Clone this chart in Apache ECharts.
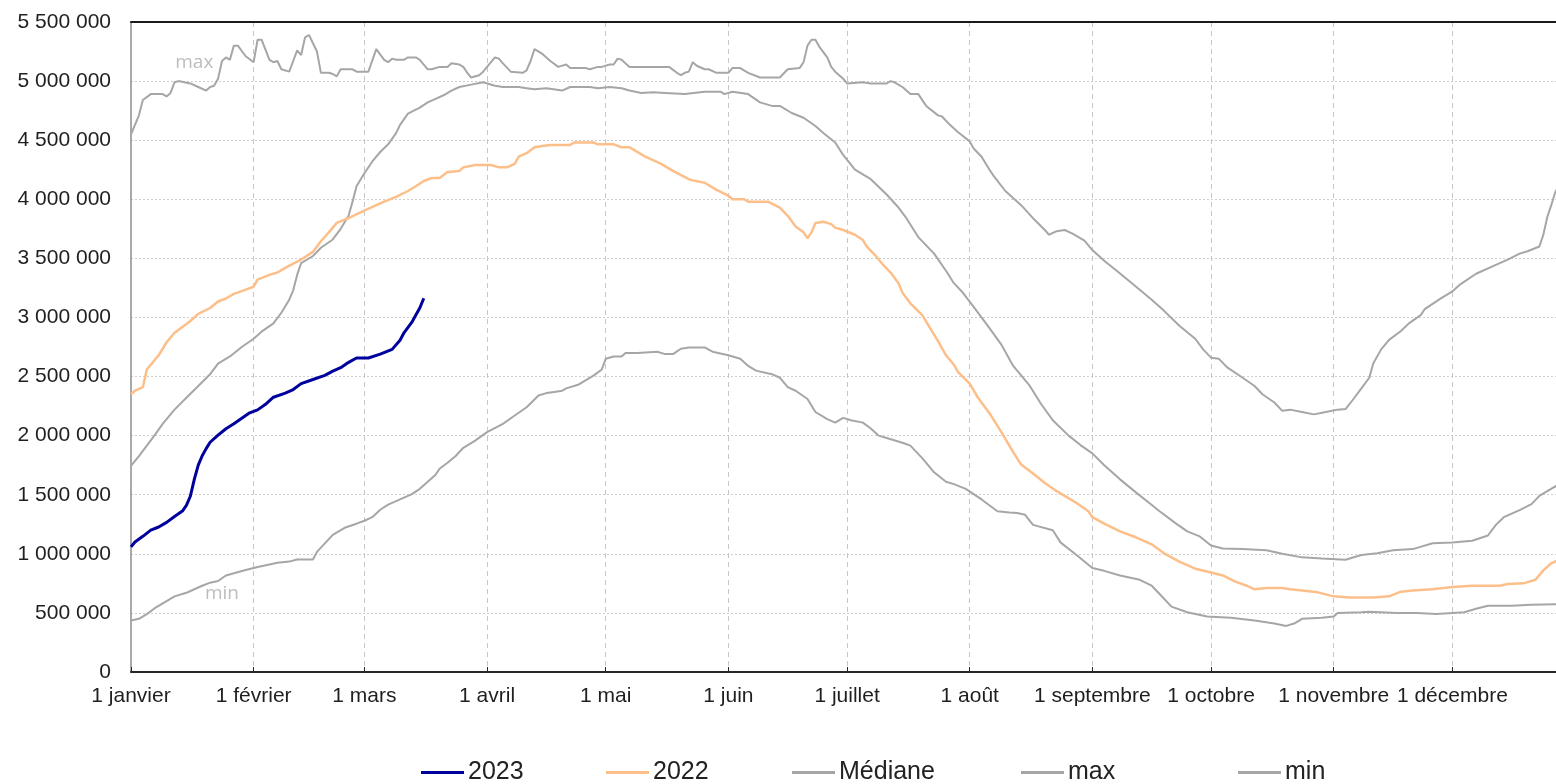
<!DOCTYPE html>
<html>
<head>
<meta charset="utf-8">
<script src="https://cdn.jsdelivr.net/npm/echarts@6/dist/echarts.min.js"></script>
<style>
html,body{margin:0;padding:0;background:#fff;overflow:hidden;}
#chart{width:1556px;height:784px;}
</style>
</head>
<body>
<div id="chart"></div>
<script>
// ---- x axis (day of year 0..365) ----
const monthStarts = [0,31,59,90,120,151,181,212,243,273,304,334];
const monthLabels = ['1 janvier','1 février','1 mars','1 avril','1 mai','1 juin','1 juillet','1 août','1 septembre','1 octobre','1 novembre','1 décembre'];
const yTicks = [0,500000,1000000,1500000,2000000,2500000,3000000,3500000,4000000,4500000,5000000,5500000];

// ---- series: day index + value ----
const maxDays = [0,2,3,5,8,9,10,11,12,15,17,19,20,21,22,23,24,25,26,27,29,31,32,33,35,36,37,38,40,41,42,43,44,45,47,48,50,51,52,53,56,57,60,62,64,65,66,67,69,70,72,73,75,76,78,80,81,83,84,85,86,88,89,91,92,93,94,96,99,100,101,102,104,106,108,110,111,115,116,118,119,121,122,123,124,126,136,138,139,140,141,142,143,145,146,148,151,152,154,156,159,164,166,169,170,171,172,173,174,176,177,178,180,181,185,187,191,192,193,195,197,199,201,204,205,207,209,212,213,215,217,218,221,225,228,231,232,234,236,238,241,243,246,249,253,258,261,265,269,271,273,275,277,281,284,286,289,291,293,296,299,302,305,307,309,311,313,314,316,318,321,323,326,327,331,334,336,340,344,348,351,353,356,357,358,359,360,361];
const maxVals = [4550000,4710000,4840000,4890000,4890000,4870000,4900000,4990000,5000000,4980000,4950000,4920000,4950000,4960000,5020000,5170000,5200000,5180000,5300000,5300000,5210000,5160000,5350000,5350000,5180000,5160000,5170000,5100000,5080000,5170000,5260000,5220000,5370000,5390000,5250000,5070000,5070000,5060000,5040000,5100000,5100000,5080000,5080000,5270000,5180000,5160000,5190000,5180000,5180000,5200000,5200000,5180000,5100000,5100000,5120000,5120000,5150000,5140000,5120000,5070000,5030000,5050000,5080000,5160000,5200000,5190000,5150000,5080000,5070000,5090000,5170000,5270000,5230000,5170000,5120000,5140000,5110000,5110000,5100000,5120000,5120000,5140000,5140000,5190000,5180000,5120000,5120000,5070000,5050000,5070000,5080000,5160000,5130000,5100000,5100000,5070000,5070000,5110000,5110000,5070000,5030000,5030000,5100000,5110000,5160000,5300000,5350000,5350000,5290000,5200000,5120000,5080000,5020000,4980000,4990000,4980000,4980000,5000000,4990000,4950000,4890000,4890000,4790000,4710000,4700000,4630000,4570000,4490000,4430000,4360000,4250000,4200000,4070000,3950000,3840000,3740000,3700000,3730000,3740000,3710000,3650000,3570000,3480000,3400000,3290000,3150000,3060000,2930000,2820000,2730000,2660000,2650000,2580000,2490000,2420000,2350000,2280000,2210000,2220000,2200000,2180000,2200000,2220000,2225000,2310000,2400000,2490000,2610000,2730000,2810000,2885000,2950000,3020000,3070000,3160000,3220000,3280000,3370000,3430000,3490000,3540000,3560000,3600000,3700000,3850000,3950000,4060000,4120000];

const medDays = [0,2,4,6,8,11,14,17,20,22,25,28,31,33,36,38,40,41,42,43,46,48,51,53,55,56,57,59,61,63,65,67,68,70,73,75,77,79,81,83,86,89,92,94,98,100,102,105,109,111,116,118,121,124,126,129,132,135,140,145,149,150,152,156,159,162,164,167,170,173,175,178,180,183,187,191,194,196,199,203,206,208,210,213,217,220,223,227,230,233,237,240,243,246,250,254,257,260,264,267,270,273,276,281,287,291,296,301,307,311,315,319,324,329,334,339,343,345,347,351,354,356,358,361];
const medVals = [1744000,1826000,1915000,2004000,2100000,2220000,2320000,2420000,2520000,2610000,2670000,2750000,2820000,2880000,2950000,3040000,3150000,3230000,3360000,3460000,3520000,3590000,3660000,3750000,3860000,3980000,4110000,4220000,4320000,4400000,4465000,4560000,4630000,4725000,4775000,4820000,4850000,4880000,4920000,4950000,4970000,4990000,4960000,4950000,4950000,4940000,4930000,4940000,4920000,4950000,4950000,4940000,4950000,4940000,4920000,4900000,4905000,4900000,4890000,4910000,4910000,4890000,4910000,4890000,4820000,4790000,4790000,4730000,4690000,4620000,4560000,4480000,4376000,4250000,4170000,4040000,3930000,3840000,3680000,3540000,3395000,3290000,3220000,3090000,2910000,2770000,2590000,2430000,2270000,2130000,2000000,1920000,1850000,1750000,1630000,1520000,1440000,1360000,1260000,1190000,1150000,1070000,1045000,1040000,1030000,1000000,970000,960000,950000,990000,1005000,1030000,1040000,1090000,1095000,1110000,1155000,1245000,1310000,1370000,1420000,1490000,1530000,1590000];

const y2022Days = [0,1,3,4,6,7,9,11,13,15,17,20,22,24,26,29,31,32,35,37,39,41,43,46,48,50,52,55,58,62,64,67,70,72,74,76,78,80,83,84,87,91,93,95,97,98,100,102,104,106,111,112,117,118,122,124,126,127,130,134,137,141,142,145,148,151,152,155,156,161,164,166,168,170,171,172,173,175,177,178,180,183,185,186,188,190,192,194,195,197,200,202,204,206,208,209,212,214,217,220,223,225,228,231,234,236,239,242,243,246,250,254,258,261,265,269,272,276,279,282,284,287,291,293,296,300,304,308,314,318,321,324,329,334,339,346,348,352,355,357,359,361];
const y2022Vals = [2350000,2380000,2410000,2560000,2640000,2680000,2790000,2870000,2920000,2970000,3030000,3080000,3135000,3160000,3200000,3235000,3260000,3320000,3360000,3380000,3420000,3456000,3490000,3555000,3645000,3720000,3800000,3840000,3890000,3950000,3980000,4020000,4070000,4110000,4155000,4180000,4180000,4230000,4240000,4270000,4290000,4290000,4270000,4270000,4300000,4360000,4390000,4440000,4450000,4460000,4460000,4480000,4480000,4465000,4465000,4440000,4440000,4420000,4360000,4300000,4240000,4170000,4160000,4140000,4080000,4030000,4000000,4000000,3980000,3980000,3930000,3860000,3770000,3720000,3670000,3720000,3800000,3810000,3790000,3760000,3740000,3700000,3655000,3600000,3530000,3450000,3380000,3290000,3210000,3120000,3020000,2910000,2800000,2680000,2600000,2540000,2440000,2325000,2190000,2030000,1860000,1755000,1680000,1600000,1530000,1490000,1430000,1360000,1310000,1255000,1190000,1140000,1080000,1006000,934000,874000,850000,817000,767000,730000,700000,710000,710000,700000,690000,674000,640000,630000,630000,640000,680000,690000,700000,720000,730000,730000,745000,750000,780000,860000,920000,950000];

const minDays = [0,2,4,6,9,11,14,16,18,20,22,24,26,29,32,35,37,40,42,46,47,49,51,54,57,59,61,63,65,68,71,73,75,77,78,80,82,84,87,90,94,97,100,103,105,107,109,110,113,115,117,119,120,122,124,125,128,133,135,137,139,141,145,147,151,154,156,158,162,164,166,168,171,173,176,178,180,182,185,187,189,191,195,197,200,203,206,208,211,215,219,222,224,226,228,233,235,239,243,246,250,255,258,260,263,267,272,278,284,289,292,294,296,301,304,305,311,313,320,325,330,337,340,343,349,354,361];
const minVals = [435000,450000,490000,540000,600000,640000,670000,700000,730000,756000,770000,817000,835000,863000,888000,910000,924000,934000,952000,952000,1016000,1088000,1160000,1220000,1255000,1280000,1310000,1373000,1416000,1460000,1505000,1550000,1610000,1670000,1720000,1770000,1826000,1897000,1958000,2030000,2100000,2170000,2240000,2340000,2360000,2370000,2380000,2400000,2430000,2470000,2510000,2560000,2650000,2670000,2670000,2700000,2700000,2710000,2690000,2690000,2735000,2746000,2746000,2710000,2680000,2650000,2590000,2550000,2520000,2490000,2410000,2380000,2310000,2200000,2140000,2110000,2150000,2130000,2110000,2060000,2000000,1980000,1940000,1915000,1810000,1690000,1610000,1590000,1550000,1460000,1360000,1350000,1345000,1330000,1245000,1200000,1095000,990000,880000,856000,817000,780000,730000,660000,553000,506000,470000,460000,435000,410000,390000,410000,450000,460000,470000,500000,506000,510000,500000,500000,490000,506000,535000,560000,560000,570000,574000];

const y2023Days = [0,1,3,5,7,9,11,13,14,15,16,17,18,19,20,22,24,26,28,30,32,34,36,39,41,43,46,49,51,53,55,57,60,63,66,68,69,71,72,73,74];
const y2023Vals = [1059000,1100000,1148000,1200000,1227000,1266000,1316000,1362000,1410000,1487000,1630000,1750000,1830000,1890000,1944000,2004000,2058000,2100000,2147000,2193000,2218000,2265000,2325000,2360000,2390000,2440000,2475000,2510000,2546000,2575000,2620000,2657000,2657000,2690000,2730000,2807000,2870000,2960000,3020000,3080000,3163000];

// annotation anchors (day index, value)
const maxNote = [16, 5160000];
const minNote = [23, 660000];

const zip = (d, v) => d.map((x, i) => [x, v[i]]);
const categories = Array.from({length: 366}, (_, i) => String(i));
const isMonthStart = (i) => monthStarts.indexOf(i) >= 0;
const fmt = v => String(v).replace(/\B(?=(\d{3})+(?!\d))/g, ' ');

const FONT = "'Liberation Sans', Arial, sans-serif";
const GRAY = '#a6a6a6';

const chart = echarts.init(document.getElementById('chart'), null, {renderer: 'canvas'});

function lineSeries(name, data, color, width, z) {
  return {
    name, type: 'line', data, showSymbol: false, symbol: 'none',
    lineStyle: {color, width}, itemStyle: {color}, z, animation: false, clip: true
  };
}

const noteLabel = {
  show: true, position: 'inside', color: '#bdbdbd',
  fontFamily: "'Open Sans', sans-serif", fontSize: 19
};

const series = [
  Object.assign(lineSeries('max', zip(maxDays, maxVals), GRAY, 2, 2), {
    markPoint: {symbol: 'circle', symbolSize: 1, itemStyle: {color: 'rgba(0,0,0,0)'},
      label: Object.assign({formatter: 'max'}, noteLabel), data: [{coord: maxNote}], animation: false}
  }),
  Object.assign(lineSeries('min', zip(minDays, minVals), GRAY, 2, 2), {
    markPoint: {symbol: 'circle', symbolSize: 1, itemStyle: {color: 'rgba(0,0,0,0)'},
      label: Object.assign({formatter: 'min'}, noteLabel), data: [{coord: minNote}], animation: false}
  }),
  lineSeries('Médiane', zip(medDays, medVals), GRAY, 2, 3),
  lineSeries('2022', zip(y2022Days, y2022Vals), '#fdbf89', 2.5, 4),
  lineSeries('2023', zip(y2023Days, y2023Vals), '#00009c', 3, 5)
];

function legendAt(name, left) {
  return {
    data: [name], left, top: 760, orient: 'horizontal', padding: 0,
    icon: 'rect', itemWidth: 43, itemHeight: 3, itemGap: 0,
    textStyle: {color: '#222', fontSize: 25, fontFamily: FONT, padding: [0,0,0,-1]},
    selectedMode: false
  };
}

chart.setOption({
  animation: false,
  backgroundColor: '#fff',
  grid: {left: 131, width: 1444, top: 22, height: 650, containLabel: false, outerBoundsMode: 'none'},
  legend: [
    legendAt('2023', 421), legendAt('2022', 606), legendAt('Médiane', 792),
    legendAt('max', 1021), legendAt('min', 1238)
  ],
  xAxis: [{
    type: 'category', data: categories, boundaryGap: false, position: 'bottom',
    axisLine: {show: true, lineStyle: {color: '#262626', width: 2}},
    axisTick: {show: true, inside: true, length: 5, interval: (i) => isMonthStart(i), lineStyle: {color: '#262626', width: 1}},
    axisLabel: {show: true, interval: (i) => isMonthStart(i), formatter: (v, i) => monthLabels[monthStarts.indexOf(Number(v))] || '',
      color: '#1f1f1f', fontSize: 21, fontFamily: FONT, margin: 14},
    splitLine: {show: true, interval: (i) => isMonthStart(i) && i > 0, lineStyle: {color: '#c6c6c6', width: 1, type: [5, 4]}}
  }, {
    type: 'category', data: categories, boundaryGap: false, position: 'top',
    axisLine: {show: true, lineStyle: {color: '#1a1a1a', width: 2}},
    axisTick: {show: false}, axisLabel: {show: false}, splitLine: {show: false}
  }],
  yAxis: {
    type: 'value', min: 0, max: 5500000, interval: 500000,
    axisLine: {show: true, lineStyle: {color: '#8c8c8c', width: 1.5}},
    axisTick: {show: false},
    axisLabel: {color: '#1f1f1f', fontSize: 21, fontFamily: FONT, margin: 20,
      formatter: v => yTicks.indexOf(v) >= 0 ? fmt(v) : ''},
    splitLine: {show: true, lineStyle: {color: '#cfcfcf', width: 1, type: [2, 2]}}
  },
  series
});
</script>
</body>
</html>
